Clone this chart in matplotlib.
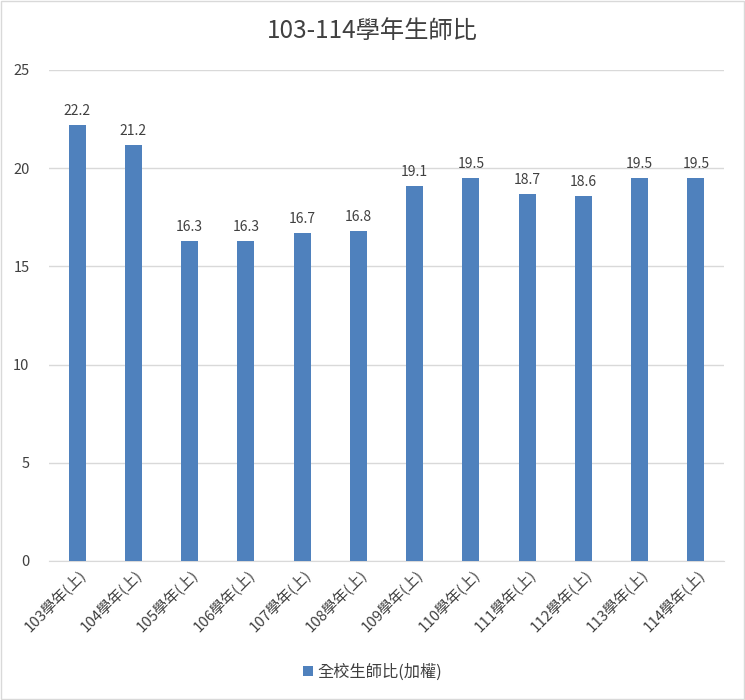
import matplotlib
matplotlib.use("Agg")
import matplotlib.pyplot as plt
from matplotlib.patches import Rectangle

plt.rcParams['font.family'] = ['Noto Sans CJK TC', 'DejaVu Sans']

categories = ["103學年(上)", "104學年(上)", "105學年(上)", "106學年(上)", "107學年(上)",
              "108學年(上)", "109學年(上)", "110學年(上)", "111學年(上)", "112學年(上)",
              "113學年(上)", "114學年(上)"]
values = [22.2, 21.2, 16.3, 16.3, 16.7, 16.8, 19.1, 19.5, 18.7, 18.6, 19.5, 19.5]
series_name = "全校生師比(加權)"
title = "103-114學年生師比"
yticks = [0, 5, 10, 15, 20, 25]

bar_color = "#4F81BD"
text_color = "#404040"

fig = plt.figure(figsize=(7.45, 7.0), dpi=100)
ax = fig.add_axes([0.0658, 0.1986, 0.906, 0.7014])

x = list(range(len(categories)))
bars = ax.bar(x, values, width=0.3, color=bar_color, zorder=3, label=series_name)
for xi, v in zip(x, values):
    ax.annotate(f"{v}", (xi, v), xytext=(0, 5), textcoords="offset points",
                ha="center", va="bottom", fontsize=10, color=text_color)

ax.set_xlim(-0.5, len(categories) - 0.5)
ax.set_ylim(0, 25)
ax.set_yticks(yticks)
ax.yaxis.grid(True, color="#D9D9D9", linewidth=1, zorder=0)
ax.set_xticks(x)
ax.set_xticklabels(categories, rotation=45, ha="right", rotation_mode="anchor",
                   fontsize=10.8, color=text_color)
ax.tick_params(axis="y", length=0, labelsize=10.5, labelcolor=text_color, pad=14)
ax.tick_params(axis="x", length=0, pad=4)
for s in ["top", "right", "left"]:
    ax.spines[s].set_visible(False)
ax.spines["bottom"].set_color("#D9D9D9")

fig.text(0.5, 0.955, title, ha="center", va="center", fontsize=17.5, color=text_color)

leg = fig.legend(handles=[bars], labels=[series_name], loc="center", bbox_to_anchor=(0.5, 0.04),
                 frameon=False, fontsize=11.7, handlelength=0.6, handleheight=0.6,
                 handletextpad=0.3)
for t in leg.get_texts():
    t.set_color(text_color)

fig.patches.append(Rectangle((0.001, 0.001), 0.998, 0.998, transform=fig.transFigure,
                             fill=False, edgecolor="#D9D9D9", linewidth=1))

fig.savefig("out.png", dpi=100)
